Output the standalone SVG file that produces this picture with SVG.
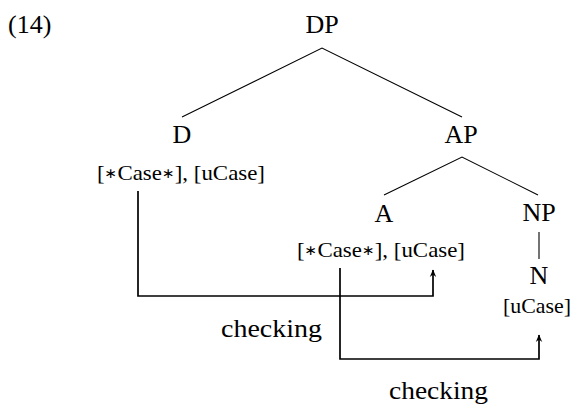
<svg xmlns="http://www.w3.org/2000/svg" width="576" height="404" viewBox="0 0 576 404">
<defs>
<style>
text{font-family:"Liberation Serif","Times New Roman",serif;fill:#000}
.lab{font-size:26px;text-anchor:middle}
.feat{font-size:21px;text-anchor:middle}
.ast{font-size:14px;font-family:"DejaVu Sans",sans-serif}
.chk{font-size:26px}
.edge{stroke:#000;stroke-width:1.1;fill:none}
.conn{stroke:#000;stroke-width:1.7;fill:none}
</style>
<marker id="arr" viewBox="-8 -4 9 8" refX="0" refY="0" markerWidth="9" markerHeight="8" markerUnits="userSpaceOnUse" orient="auto">
<path d="M0.5,0 L-7,-3.2 L-4.5,0 L-7,3.2 Z" fill="#000"/>
</marker>
</defs>
<text x="8" y="33" style="font-size:26px">(14)</text>
<g id="edges">
<path class="edge" d="M182,117 L322,48 L462,117"/>
<path class="edge" d="M384,195 L462,157 L538,195"/>
<path class="edge" d="M539,232 V259"/>
</g>
<g id="DP"><text class="lab" x="322" y="33">DP</text></g>
<g id="D"><text class="lab" x="182" y="143">D</text>
<text class="feat" x="181" y="180" textLength="168" lengthAdjust="spacingAndGlyphs">[<tspan class="ast" dy="-2">∗</tspan><tspan dy="2">Case</tspan><tspan class="ast" dy="-2">∗</tspan><tspan dy="2">], [uCase]</tspan></text></g>
<g id="AP"><text class="lab" x="461" y="143">AP</text></g>
<g id="A"><text class="lab" x="384" y="222">A</text>
<text class="feat" x="381" y="257" textLength="168" lengthAdjust="spacingAndGlyphs">[<tspan class="ast" dy="-2">∗</tspan><tspan dy="2">Case</tspan><tspan class="ast" dy="-2">∗</tspan><tspan dy="2">], [uCase]</tspan></text></g>
<g id="NP"><text class="lab" x="539" y="221">NP</text></g>
<g id="N"><text class="lab" x="539" y="284">N</text>
<text class="feat" x="537" y="313" textLength="68" lengthAdjust="spacingAndGlyphs">[uCase]</text></g>
<g id="connectors">
<path class="conn" d="M138,191 V296 H433 V270" marker-end="url(#arr)"/>
<path class="conn" d="M340,268 V359 H539 V335" marker-end="url(#arr)"/>
<text class="chk" x="221" y="337" textLength="101" lengthAdjust="spacingAndGlyphs">checking</text>
<text class="chk" x="389" y="399" textLength="99" lengthAdjust="spacingAndGlyphs">checking</text>
</g>
</svg>
